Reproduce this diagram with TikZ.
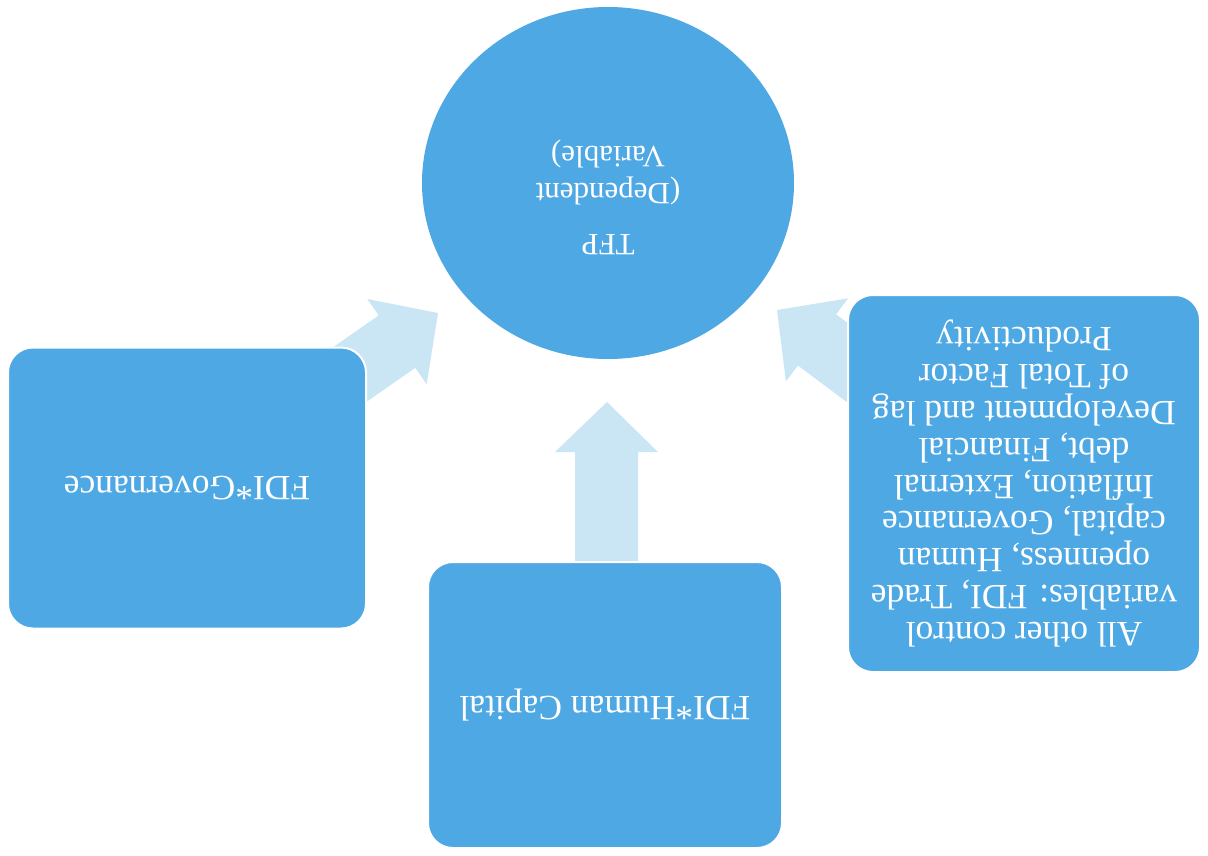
\documentclass[tikz,border=0pt]{standalone}
\usepackage{fontspec}
\setmainfont{Liberation Serif}
\usetikzlibrary{shapes.geometric}
\definecolor{boxblue}{RGB}{78,168,228}
\definecolor{arrowblue}{RGB}{202,229,244}
\tikzset{
  bluebox/.style={draw=white, line width=2pt, fill=boxblue, rounded corners=25pt,
    text=white, align=center, rotate=180, inner sep=0pt,
    font=\fontsize{35.5}{36.8}\selectfont},
  bigarrow/.style={fill=arrowblue, draw=none},
  txt/.style={text=white, align=center, rotate=180,
    font=\fontsize{31}{37.5}\selectfont}
}
\begin{document}
\begin{tikzpicture}[x=1pt,y=-1pt]
\useasboundingbox (0,0) rectangle (1208,855);
% arrows (drawn first, boxes overlap their tails)
\fill[bigarrow] (575,562) -- (575,452) -- (555,452) -- (607,402) -- (658,452) -- (638,452) -- (638,562) -- cycle;
\fill[bigarrow] (357.9,407.8) -- (415.3,367.8) -- (426.7,384.2) -- (438,313) -- (367.3,299) -- (378.7,315.4) -- (321.3,355.4) -- cycle;
\fill[bigarrow] (896.2,359.2) -- (836.1,314.3) -- (848.1,298.3) -- (777,310) -- (785.9,381.5) -- (797.9,365.5) -- (858,410.4) -- cycle;
% circle
\node[ellipse, fill=boxblue, minimum width=372pt, minimum height=352pt, inner sep=0pt] (tfp) at (608,183) {};
\node[txt] (tfptext) at ([yshift=-14pt]tfp.center) {TFP\\[13pt](Dependent\\Variable)};
% boxes
\node[bluebox, minimum width=358pt, minimum height=281pt] (gov) at (187,488) {FDI*Governance};
\node[bluebox, minimum width=354pt, minimum height=286pt] (hum) at (605,705) {FDI*Human Capital};
\node[bluebox, minimum width=352pt, minimum height=377pt] (ctrl) at (1024,483.5)
  {All other control\\variables: FDI, Trade\\openness, Human\\capital, Governance\\Inflation, External\\debt, Financial\\Development and lag\\of Total Factor\\Productivity};
\end{tikzpicture}
\end{document}
